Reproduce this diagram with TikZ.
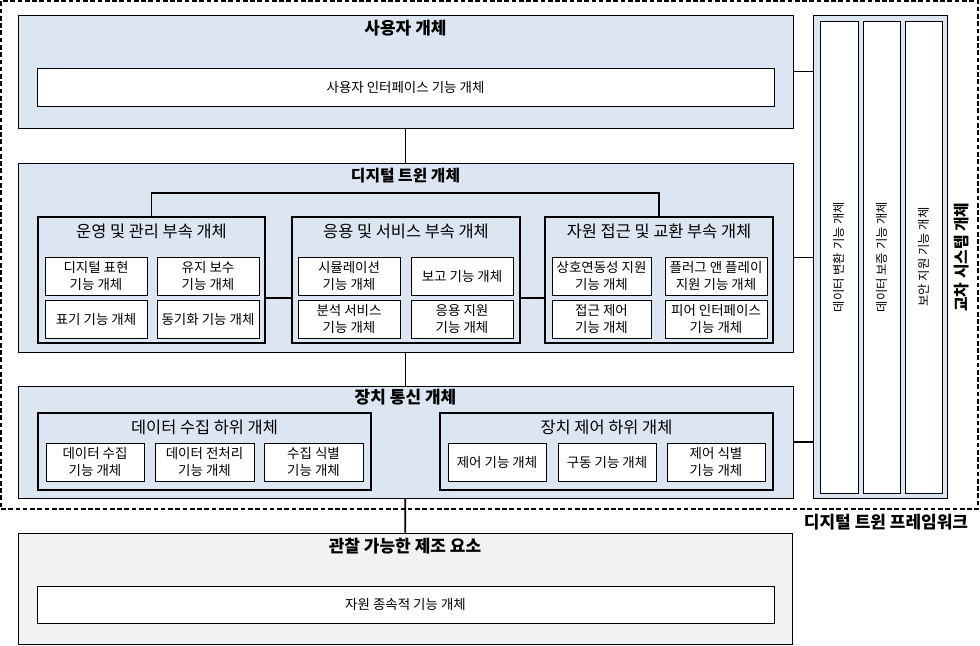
\documentclass[tikz,border=0pt]{standalone}
\usepackage{fontspec}
\newfontfamily\kr{Noto Sans CJK KR}
\usepackage{xcolor}
\usepackage{tikz}

\definecolor{bleuclair}{HTML}{DCE6F2}
\definecolor{grisclair}{HTML}{F2F2F2}
\newcommand{\pxu}{0.03cm}

\begin{document}
\begin{tikzpicture}[x=0.03cm,y=-0.03cm,font=\kr,
    grand/.style={draw, fill=bleuclair, line width=0.8pt},
    sous/.style={draw, fill=bleuclair, line width=2.2pt},
    fonc/.style={draw, fill=white, line width=0.8pt, align=center, inner sep=1pt, font=\kr\fontsize{11.5}{14.5}\selectfont},
    vert/.style={fonc, rotate=90, font=\kr\fontsize{10.5}{13}\selectfont},
    titre/.style={font=\kr\bfseries\fontsize{14.5}{17}\selectfont},
    stitre/.style={font=\kr\fontsize{14}{16}\selectfont},
    lien/.style={line width=1.6pt},
    cadre/.style={draw, line width=1.8pt, dash pattern=on 4pt off 2.2pt}]
                \useasboundingbox (0,0) rectangle (980,646);

                % Cadre de la plateforme
                \node[cadre, minimum width=977*\pxu, minimum height=508*\pxu] (cadre) at (489.5,255) {};
                \node[titre] (cadreT) at (886,522) {디지털 트윈 프레임워크};

                % Blocs principaux
                \node[grand, minimum width=775*\pxu, minimum height=113*\pxu] (user) at (405.5,71.5) {};
                \node[titre] (userT) at (405.5,28) {사용자 개체};
                \node[fonc, minimum width=737*\pxu, minimum height=38*\pxu] (userIF) at (405.5,87) {사용자 인터페이스 기능 개체};

                \node[grand, minimum width=775*\pxu, minimum height=189*\pxu] (dt) at (405.5,257.5) {};
                \node[titre, font=\kr\bfseries\fontsize{13.5}{16}\selectfont] (dtT) at (405.5,176) {디지털 트윈 개체};

                \node[grand, minimum width=775*\pxu, minimum height=112*\pxu] (dev) at (405.5,442) {};
                \node[titre] (devT) at (405.5,397) {장치 통신 개체};

                \node[grand, fill=grisclair, minimum width=774*\pxu, minimum height=111*\pxu] (obs) at (405,588.5) {};
                \node[titre] (obsT) at (405,546) {관찰 가능한 제조 요소};
                \node[fonc, minimum width=737*\pxu, minimum height=37*\pxu] (obsR) at (405.5,604.5) {자원 종속적 기능 개체};

                % Blocs du jumeau numérique
                \node[sous, minimum width=227*\pxu, minimum height=126*\pxu] (ops) at (151.5,280) {};
                \node[stitre] (opsT) at (151.5,231) {운영 및 관리 부속 개체};
                \node[fonc, minimum width=102*\pxu, minimum height=38*\pxu] (ops1) at (96,276) {디지털 표현\\기능 개체};
                \node[fonc, minimum width=102*\pxu, minimum height=38*\pxu] (ops2) at (208,276) {유지 보수\\기능 개체};
                \node[fonc, minimum width=102*\pxu, minimum height=38*\pxu] (ops3) at (96,319) {표기 기능 개체};
                \node[fonc, minimum width=102*\pxu, minimum height=38*\pxu] (ops4) at (208,319) {동기화 기능 개체};

                \node[sous, minimum width=228*\pxu, minimum height=126*\pxu] (app) at (406,280) {};
                \node[stitre] (appT) at (406,231) {응용 및 서비스 부속 개체};
                \node[fonc, minimum width=102*\pxu, minimum height=38*\pxu] (app1) at (349,276) {시뮬레이션\\기능 개체};
                \node[fonc, minimum width=102*\pxu, minimum height=38*\pxu] (app2) at (462,276) {보고 기능 개체};
                \node[fonc, minimum width=102*\pxu, minimum height=38*\pxu] (app3) at (349,319) {분석 서비스\\기능 개체};
                \node[fonc, minimum width=102*\pxu, minimum height=38*\pxu] (app4) at (462,319) {응용 지원\\기능 개체};

                \node[sous, minimum width=228*\pxu, minimum height=126*\pxu] (res) at (659,280) {};
                \node[stitre] (resT) at (659,231) {자원 접근 및 교환 부속 개체};
                \node[fonc, minimum width=99*\pxu, minimum height=38*\pxu] (res1) at (601.5,276) {상호연동성 지원\\기능 개체};
                \node[fonc, minimum width=102*\pxu, minimum height=38*\pxu] (res2) at (716,276) {플러그 앤 플레이\\지원 기능 개체};
                \node[fonc, minimum width=99*\pxu, minimum height=38*\pxu] (res3) at (601.5,319) {접근 제어\\기능 개체};
                \node[fonc, minimum width=102*\pxu, minimum height=38*\pxu] (res4) at (716,319) {피어 인터페이스\\기능 개체};

                % Blocs de communication
                \node[sous, minimum width=333*\pxu, minimum height=77*\pxu] (col) at (204.5,451.5) {};
                \node[stitre] (colT) at (204.5,427) {데이터 수집 하위 개체};
                \node[fonc, minimum width=98*\pxu, minimum height=38*\pxu] (col1) at (95,462) {데이터 수집\\기능 개체};
                \node[fonc, minimum width=99*\pxu, minimum height=38*\pxu] (col2) at (204.5,462) {데이터 전처리\\기능 개체};
                \node[fonc, minimum width=99*\pxu, minimum height=38*\pxu] (col3) at (313.5,462) {수집 식별\\기능 개체};

                \node[sous, minimum width=333*\pxu, minimum height=77*\pxu] (ctl) at (606.5,451.5) {};
                \node[stitre] (ctlT) at (606.5,427) {장치 제어 하위 개체};
                \node[fonc, minimum width=98*\pxu, minimum height=38*\pxu] (ctl1) at (497,462) {제어 기능 개체};
                \node[fonc, minimum width=98*\pxu, minimum height=38*\pxu] (ctl2) at (607,462) {구동 기능 개체};
                \node[fonc, minimum width=98*\pxu, minimum height=38*\pxu] (ctl3) at (716,462) {제어 식별\\기능 개체};

                % Bloc transversal
                \node[grand, minimum width=134*\pxu, minimum height=483*\pxu] (cross) at (880,256.5) {};
                \node[vert, minimum width=472*\pxu, minimum height=38*\pxu] (cross1) at (839,257) {데이터 변환 기능 개체};
                \node[vert, minimum width=472*\pxu, minimum height=37*\pxu] (cross2) at (881.5,257) {데이터 보증 기능 개체};
                \node[vert, minimum width=472*\pxu, minimum height=37*\pxu] (cross3) at (923.5,257) {보안 지원 기능 개체};
                \node[titre, rotate=90, font=\kr\bfseries\fontsize{13.5}{16}\selectfont] (crossT) at (962,257) {교차 시스템 개체};

                % Liaisons
                \coordinate (bus) at (405.5,193);
                \coordinate (rang) at (0,298);
                \draw[lien] (user) -- (dt);
                \draw[lien] (dt) -- (dev);
                \draw[lien] (dev) -- (obs);
                \draw[lien] (ops.north) |- (bus) -| (res.north);
                \draw[lien] (ops.east |- rang) -- (app.west |- rang);
                \draw[lien] (app.east |- rang) -- (res.west |- rang);
                \draw[lien] (user.east) -- (user.east -| cross.west);
                \draw[lien] (dt.east) -- (dt.east -| cross.west);
                \draw[lien] (dev.east) -- (dev.east -| cross.west);
\end{tikzpicture}
\end{document}
